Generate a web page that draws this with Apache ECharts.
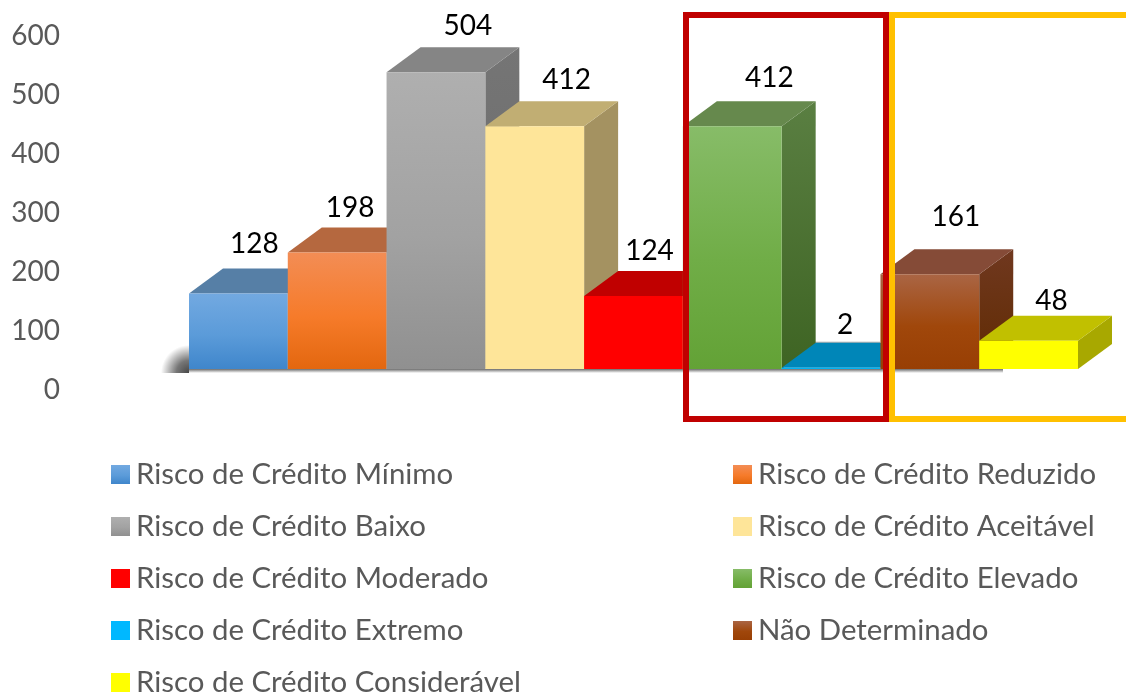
<!DOCTYPE html>
<html>
<head>
<meta charset="utf-8">
<style>
html, body { margin: 0; padding: 0; background: #fff; overflow: hidden; }
#main { width: 1126px; height: 693px; }
</style>
<script src="https://cdn.jsdelivr.net/npm/echarts@6/dist/echarts.min.js"></script>
</head>
<body>
<div id="main"></div>
<script>
var chartDom = document.getElementById('main');
var myChart = echarts.init(chartDom);

// values
var names = ['Risco de Crédito Mínimo', 'Risco de Crédito Reduzido', 'Risco de Crédito Baixo',
    'Risco de Crédito Aceitável', 'Risco de Crédito Moderado', 'Risco de Crédito Elevado',
    'Risco de Crédito Extremo', 'Não Determinado', 'Risco de Crédito Considerável'];
var values = [128, 198, 504, 412, 124, 412, 2, 161, 48];
var axisTicks = [0, 100, 200, 300, 400, 500, 600];

// cube colours, one entry per bar
var frontTop = ['#72a9e1', '#f38d55', '#afafaf', '#fee599', '#ff0000', '#87bc68', '#00b4f5', '#aa6544', '#ffff00'];
var frontMid = ['#5b9bd9', '#f67b2a', '#a2a2a2', '#fee599', '#ff0000', '#70ad47', '#00b4f5', '#a0470b', '#ffff00'];
var frontBottom = ['#3f86cb', '#e3670f', '#909090', '#fee599', '#ff0000', '#63a236', '#00b4f5', '#983f04', '#ffff00'];
var topColor = ['#567fa6', '#b5683f', '#858585', '#c1ae73', '#c00000', '#66894d', '#0086b8', '#854b37', '#c1c000'];
var sideTop = ['#4a7aa8', '#b5683f', '#757575', '#a49261', '#c00000', '#5a7f42', '#0086b8', '#70381f', '#a8a800'];
var sideBottom = ['#2c5f94', '#a24d10', '#696969', '#a49261', '#c00000', '#3e6423', '#0086b8', '#602b02', '#a8a800'];
// the value labels float at slightly different spots above each cube
var labelUp = [50, 44, 46, 46, 45, 48, 43, 57, 40];
var labelRight = [16, 13, 32, 32, 16, 37, 14, 26, 23];

var depthX = 34;
var depthY = 25;

function frontFill(i) {
    return new echarts.graphic.LinearGradient(0, 0, 0, 1, [
        { offset: 0, color: frontTop[i] },
        { offset: 0.55, color: frontMid[i] },
        { offset: 1, color: frontBottom[i] }
    ]);
}

function renderCube(i) {
    return function(params, api) {
        var top = api.coord([api.value(0), api.value(1)]);
        var base = api.coord([api.value(0), 0]);
        var w = api.size([1, 0])[0];
        var x0 = top[0] - w / 2;
        var x1 = top[0] + w / 2;
        return {
            type: 'group',
            children: [{
                type: 'polygon',
                shape: { points: [[x1, top[1]], [x1 + depthX, top[1] - depthY], [x1 + depthX, base[1] - depthY], [x1, base[1]]] },
                style: { fill: new echarts.graphic.LinearGradient(0, 0, 0, 1, [
                    { offset: 0, color: sideTop[i] },
                    { offset: 1, color: sideBottom[i] }
                ]) }
            }, {
                type: 'polygon',
                shape: { points: [[x0, top[1]], [x0 + depthX, top[1] - depthY], [x1 + depthX, top[1] - depthY], [x1, top[1]]] },
                style: { fill: topColor[i] }
            }, {
                type: 'rect',
                shape: { x: x0, y: top[1], width: x1 - x0, height: base[1] - top[1] },
                style: { fill: frontFill(i) }
            }, {
                type: 'text',
                style: {
                    x: top[0] + labelRight[i],
                    y: top[1] - labelUp[i],
                    text: String(api.value(1)),
                    align: 'center',
                    verticalAlign: 'middle',
                    fill: '#000',
                    font: '28px Lato'
                }
            }]
        };
    };
}

var series = names.map(function(name, i) {
    return {
        type: 'custom',
        name: name,
        xAxisIndex: 0,
        yAxisIndex: 0,
        z: 2 + i,
        itemStyle: { color: i === 6 ? '#00b8ff' : frontFill(i) },
        renderItem: renderCube(i),
        encode: { x: 0, y: 1 },
        data: [[i, values[i]]]
    };
});

function legendAt(left, items) {
    return {
        left: left,
        top: 455,
        height: 320,
        orient: 'vertical',
        icon: 'rect',
        itemWidth: 19,
        itemHeight: 19,
        itemGap: 23,
        selectedMode: false,
        textStyle: { color: '#595959', fontFamily: 'Lato', fontSize: 29.4, padding: [0, 0, 0, 1] },
        data: items
    };
}

var option = {
    animation: false,
    backgroundColor: '#fff',
    grid: [
        { left: 189, top: 15.6, width: 889, height: 353.4 },
        { left: 68, top: 35.5, width: 100, height: 354.5 }
    ],
    xAxis: [
        { type: 'category', gridIndex: 0, data: names, show: false },
        { type: 'category', gridIndex: 1, data: [''], show: false }
    ],
    yAxis: [
        { type: 'value', gridIndex: 0, min: 0, max: 600, show: false },
        {
            type: 'value',
            gridIndex: 1,
            min: axisTicks[0],
            max: axisTicks[axisTicks.length - 1],
            interval: 100,
            axisLine: { show: false },
            axisTick: { show: false },
            splitLine: { show: false },
            axisLabel: { color: '#595959', fontFamily: 'Lato', fontSize: 28, margin: 8 }
        }
    ],
    legend: [
        legendAt(106, names.filter(function(n, i) { return i % 2 === 0; })),
        legendAt(728, names.filter(function(n, i) { return i % 2 === 1; }))
    ],
    // floor shadow and the two highlight frames
    graphic: [{
        type: 'rect',
        z: 0,
        shape: { x: 157, y: 345, width: 32, height: 28 },
        style: {
            fill: new echarts.graphic.RadialGradient(1, 1, 1, [
                { offset: 0, color: 'rgba(60,60,60,0.95)' },
                { offset: 0.45, color: 'rgba(60,60,60,0.7)' },
                { offset: 1, color: 'rgba(60,60,60,0)' }
            ])
        }
    }, {
        type: 'rect',
        z: 0,
        shape: { x: 189, y: 369, width: 814, height: 4 },
        style: { fill: new echarts.graphic.LinearGradient(0, 0, 0, 1, [
            { offset: 0, color: 'rgba(70,70,70,0.8)' },
            { offset: 1, color: 'rgba(70,70,70,0)' }
        ]) }
    }, {
        type: 'rect',
        z: 0,
        shape: { x: 815, y: 341, width: 65, height: 3 },
        style: { fill: new echarts.graphic.LinearGradient(0, 0, 0, 1, [
            { offset: 0, color: 'rgba(70,70,70,0)' },
            { offset: 1, color: 'rgba(70,70,70,0.8)' }
        ]) }
    }, {
        type: 'rect',
        z: 100,
        shape: { x: 892, y: 15, width: 300, height: 404 },
        style: { fill: 'none', stroke: '#ffc000', lineWidth: 6 }
    }, {
        type: 'rect',
        z: 101,
        shape: { x: 686, y: 15, width: 200, height: 404 },
        style: { fill: 'none', stroke: '#c00000', lineWidth: 6 }
    }],
    series: series
};

myChart.setOption(option);
</script>
</body>
</html>
